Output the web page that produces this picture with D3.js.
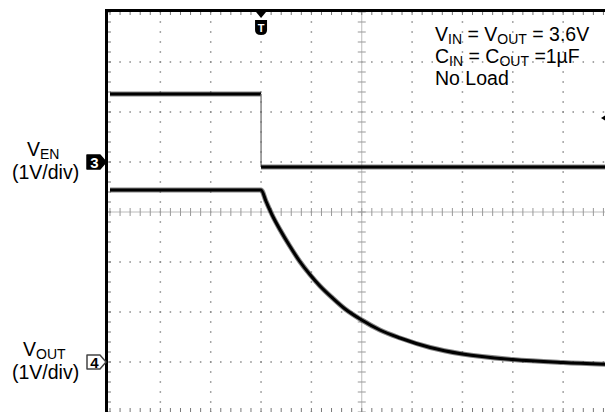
<!DOCTYPE html>
<html>
<head>
<meta charset="utf-8">
<script src="https://cdn.jsdelivr.net/npm/d3@7"></script>
<style>
  body { margin: 0; background: #fff; }
  svg { display: block; font-family: "Liberation Sans", Arial, sans-serif; }
</style>
</head>
<body>
<svg id="svg"></svg>
<script>
let width = 605, height = 412;

// scope graticule: 10 x 8 divisions
let divsX = [0, 10], divsY = [-4, 4];
let triggerDiv = 3;

// channel 3 (VEN) and channel 4 (VOUT), 1V/div, ground offsets in divisions
let ch3Offset = 1, ch4Offset = -3;

// VEN trace (time in div, volts)
let venT = [0, 3.0, 3.0, 10];
let venV = [1.36, 1.36, -0.1, -0.1];

// VOUT trace (time in div, volts)
let voutT = [0, 3.0, 3.1, 3.24, 3.38, 3.57, 3.77, 3.97, 4.17, 4.43, 4.67, 5.0, 5.36, 5.76, 6.36, 7.0, 8.0, 9.0, 10];
let voutV = [3.44, 3.44, 3.21, 2.90, 2.64, 2.32, 2.01, 1.75, 1.52, 1.27, 1.06, 0.84, 0.64, 0.48, 0.29, 0.16, 0.05, -0.01, -0.05];

let noteLines = [
  [["V", false], ["IN", true], [" = V", false], ["OUT", true], [" = 3.6V", false]],
  [["C", false], ["IN", true], [" = C", false], ["OUT", true], [" =1\u00b5F", false]],
  [["No Load", false]]
];
let channelLabels = [
  { name: [["V", false], ["EN", true]], scale: "(1V/div)", marker: "3", offset: ch3Offset, filled: true },
  { name: [["V", false], ["OUT", true]], scale: "(1V/div)", marker: "4", offset: ch4Offset, filled: false }
];

let svg = d3.select("#svg").attr("width", width).attr("height", height);

let xScale = d3.scaleLinear().domain(divsX).range([110, 613.5]);
let yScale = d3.scaleLinear().domain(divsY).range([412, 12]);

let grid = svg.append("g");
let minor = 5;

// dotted grid lines
for (let i = 1; i < 10; i++) {
  if (i === 5) continue;
  let x = xScale(i);
  for (let j = 0; j <= 8 * minor; j++) {
    grid.append("rect").attr("x", x - 0.75).attr("y", yScale(-4 + j / minor) - 0.75)
      .attr("width", 1.5).attr("height", 1.5).attr("fill", "#888");
  }
}
for (let i = -3; i < 4; i++) {
  if (i === 0) continue;
  let y = yScale(i);
  for (let j = 0; j <= 10 * minor; j++) {
    grid.append("rect").attr("x", xScale(j / minor) - 0.75).attr("y", y - 0.75)
      .attr("width", 1.5).attr("height", 1.5).attr("fill", "#888");
  }
}

// centre lines with ticks
grid.append("line").attr("x1", xScale(0)).attr("x2", xScale(10))
  .attr("y1", yScale(0)).attr("y2", yScale(0)).attr("stroke", "#bbb").attr("stroke-width", 1);
grid.append("line").attr("x1", xScale(5)).attr("x2", xScale(5))
  .attr("y1", yScale(-4)).attr("y2", yScale(4)).attr("stroke", "#bbb").attr("stroke-width", 1);
for (let j = 0; j <= 10 * minor; j++) {
  let x = xScale(j / minor);
  grid.append("line").attr("x1", x).attr("x2", x).attr("y1", yScale(0) - 4).attr("y2", yScale(0) + 4)
    .attr("stroke", "#999").attr("stroke-width", 1);
}
for (let j = 0; j <= 8 * minor; j++) {
  let y = yScale(-4 + j / minor);
  grid.append("line").attr("x1", xScale(5) - 4).attr("x2", xScale(5) + 4).attr("y1", y).attr("y2", y)
    .attr("stroke", "#999").attr("stroke-width", 1);
}

// frame and edge ticks
let frame = svg.append("g");
for (let j = 0; j <= 10 * minor; j++) {
  let x = xScale(j / minor);
  frame.append("line").attr("x1", x).attr("x2", x).attr("y1", 11).attr("y2", 15)
    .attr("stroke", "#777").attr("stroke-width", 1);
  frame.append("line").attr("x1", x).attr("x2", x).attr("y1", 408).attr("y2", 412)
    .attr("stroke", "#777").attr("stroke-width", 1);
}
for (let j = 0; j <= 8 * minor; j++) {
  let y = yScale(-4 + j / minor);
  frame.append("line").attr("x1", 107).attr("x2", 111).attr("y1", y).attr("y2", y)
    .attr("stroke", "#777").attr("stroke-width", 1);
}
frame.append("line").attr("x1", 105).attr("x2", width).attr("y1", 10.5).attr("y2", 10.5)
  .attr("stroke", "#000").attr("stroke-width", 3);
frame.append("line").attr("x1", 106.5).attr("x2", 106.5).attr("y1", 9).attr("y2", height)
  .attr("stroke", "#000").attr("stroke-width", 3);

// traces
let traces = svg.append("g");
let venData = venT.map((t, i) => ({ t: t, v: venV[i] }));
let voutData = voutT.map((t, i) => ({ t: t, v: voutV[i] }));

let venLine = d3.line().x(d => xScale(d.t)).y(d => yScale(ch3Offset + d.v));
let voutLine = d3.line().x(d => xScale(d.t)).y(d => yScale(ch4Offset + d.v)).curve(d3.curveMonotoneX);

// VEN: flat parts thick, fast edge thin
for (let i = 0; i < venData.length - 1; i++) {
  let seg = [venData[i], venData[i + 1]];
  let edge = seg[0].t === seg[1].t;
  if (!edge) {
    traces.append("path").attr("d", venLine(seg)).attr("fill", "none")
      .attr("stroke", "#333").attr("stroke-opacity", 0.6).attr("stroke-width", 5);
  }
  traces.append("path").attr("d", venLine(seg)).attr("fill", "none")
    .attr("stroke", edge ? "#666" : "#000").attr("stroke-width", edge ? 1.2 : 3);
}

traces.append("path").attr("d", voutLine(voutData)).attr("fill", "none")
  .attr("stroke", "#333").attr("stroke-opacity", 0.6).attr("stroke-width", 5);
traces.append("path").attr("d", voutLine(voutData)).attr("fill", "none")
  .attr("stroke", "#000").attr("stroke-width", 3);

// trigger markers
let tx = xScale(triggerDiv);
svg.append("path").attr("d", `M${tx - 5},12 L${tx + 5},12 L${tx},18 Z`).attr("fill", "#000");
svg.append("path")
  .attr("d", `M${tx - 6},20 L${tx + 6},20 L${tx + 6},30 Q${tx + 6},35 ${tx},35 Q${tx - 6},35 ${tx - 6},30 Z`)
  .attr("fill", "#000");
svg.append("text").attr("x", tx).attr("y", 32).attr("text-anchor", "middle")
  .attr("font-size", 11).attr("font-weight", "bold").attr("fill", "#fff").text("T");
svg.append("path").attr("d", "M601,118 L606,115 L606,121 Z").attr("fill", "#000");

// subscript helper
function richText(sel, parts, size, subSize, drop) {
  parts.forEach((p, i) => {
    let ts = sel.append("tspan").text(p[0]);
    if (p[1]) ts.attr("font-size", subSize).attr("dy", drop);
    else ts.attr("font-size", size).attr("dy", i > 0 ? -drop : 0);
  });
}

// note
let noteY = [41, 63, 85];
noteLines.forEach((parts, i) => {
  let t = svg.append("text").attr("x", 435).attr("y", noteY[i]).attr("fill", "#000");
  richText(t, parts, 19.5, 14, 2.5);
});

// channel labels and ground markers
channelLabels.forEach((c, i) => {
  let gy = yScale(c.offset);
  let nameX = i === 0 ? 27 : 23;
  let t = svg.append("text").attr("x", nameX).attr("y", gy - 6).attr("fill", "#000");
  richText(t, c.name, 19.5, 14, 2.5);
  svg.append("text").attr("x", 12).attr("y", gy + 17).attr("font-size", 19.5).attr("fill", "#000").text(c.scale);

  svg.append("path")
    .attr("d", `M87,${gy - 7} L100,${gy - 7} L106,${gy} L100,${gy + 7} L87,${gy + 7} Z`)
    .attr("fill", c.filled ? "#000" : "#fff").attr("stroke", c.filled ? "#000" : "#444")
    .attr("stroke-width", 1.5).attr("stroke-linejoin", "round");
  svg.append("text").attr("x", 94.5).attr("y", gy + 5.5).attr("text-anchor", "middle")
    .attr("font-size", 15).attr("font-weight", "bold").attr("fill", c.filled ? "#fff" : "#000").text(c.marker);
});
</script>
</body>
</html>
